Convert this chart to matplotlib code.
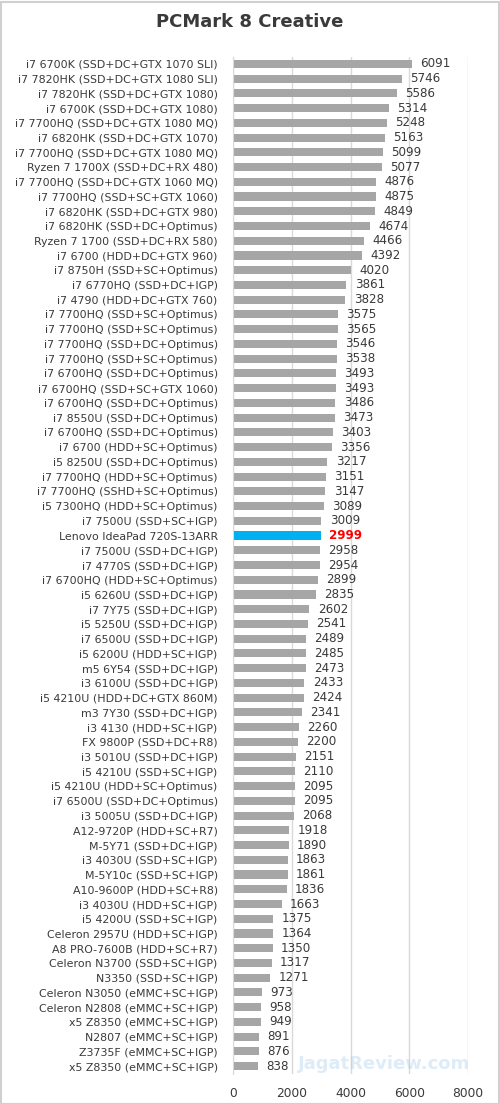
import matplotlib
matplotlib.use("Agg")
import matplotlib.pyplot as plt
from matplotlib.patches import Rectangle

labels = [
    "i7 6700K (SSD+DC+GTX 1070 SLI)", "i7 7820HK (SSD+DC+GTX 1080 SLI)",
    "i7 7820HK (SSD+DC+GTX 1080)", "i7 6700K (SSD+DC+GTX 1080)",
    "i7 7700HQ (SSD+DC+GTX 1080 MQ)", "i7 6820HK (SSD+DC+GTX 1070)",
    "i7 7700HQ (SSD+DC+GTX 1080 MQ)", "Ryzen 7 1700X (SSD+DC+RX 480)",
    "i7 7700HQ (SSD+DC+GTX 1060 MQ)", "i7 7700HQ (SSD+SC+GTX 1060)",
    "i7 6820HK (SSD+DC+GTX 980)", "i7 6820HK (SSD+DC+Optimus)",
    "Ryzen 7 1700 (SSD+DC+RX 580)", "i7 6700 (HDD+DC+GTX 960)",
    "i7 8750H (SSD+SC+Optimus)", "i7 6770HQ (SSD+DC+IGP)",
    "i7 4790 (HDD+DC+GTX 760)", "i7 7700HQ (SSD+SC+Optimus)",
    "i7 7700HQ (SSD+SC+Optimus)", "i7 7700HQ (SSD+DC+Optimus)",
    "i7 7700HQ (SSD+SC+Optimus)", "i7 6700HQ (SSD+DC+Optimus)",
    "i7 6700HQ (SSD+SC+GTX 1060)", "i7 6700HQ (SSD+DC+Optimus)",
    "i7 8550U (SSD+DC+Optimus)", "i7 6700HQ (SSD+DC+Optimus)",
    "i7 6700 (HDD+SC+Optimus)", "i5 8250U (SSD+DC+Optimus)",
    "i7 7700HQ (HDD+SC+Optimus)", "i7 7700HQ (SSHD+SC+Optimus)",
    "i5 7300HQ (HDD+SC+Optimus)", "i7 7500U (SSD+SC+IGP)",
    "Lenovo IdeaPad 720S-13ARR", "i7 7500U (SSD+DC+IGP)",
    "i7 4770S (SSD+DC+IGP)", "i7 6700HQ (HDD+SC+Optimus)",
    "i5 6260U (SSD+DC+IGP)", "i7 7Y75 (SSD+DC+IGP)",
    "i5 5250U (SSD+DC+IGP)", "i7 6500U (SSD+DC+IGP)",
    "i5 6200U (HDD+SC+IGP)", "m5 6Y54 (SSD+DC+IGP)",
    "i3 6100U (SSD+DC+IGP)", "i5 4210U (HDD+DC+GTX 860M)",
    "m3 7Y30 (SSD+DC+IGP)", "i3 4130 (HDD+SC+IGP)",
    "FX 9800P (SSD+DC+R8)", "i3 5010U (SSD+DC+IGP)",
    "i5 4210U (SSD+SC+IGP)", "i5 4210U (HDD+SC+Optimus)",
    "i7 6500U (SSD+DC+Optimus)", "i3 5005U (SSD+DC+IGP)",
    "A12-9720P (HDD+SC+R7)", "M-5Y71 (SSD+DC+IGP)",
    "i3 4030U (SSD+SC+IGP)", "M-5Y10c (SSD+SC+IGP)",
    "A10-9600P (HDD+SC+R8)", "i3 4030U (HDD+SC+IGP)",
    "i5 4200U (SSD+SC+IGP)", "Celeron 2957U (HDD+SC+IGP)",
    "A8 PRO-7600B (HDD+SC+R7)", "Celeron N3700 (SSD+SC+IGP)",
    "N3350 (SSD+SC+IGP)", "Celeron N3050 (eMMC+SC+IGP)",
    "Celeron N2808 (eMMC+SC+IGP)", "x5 Z8350 (eMMC+SC+IGP)",
    "N2807 (eMMC+SC+IGP)", "Z3735F (eMMC+SC+IGP)",
    "x5 Z8350 (eMMC+SC+IGP)",
]
scores = [
    6091, 5746, 5586, 5314, 5248, 5163, 5099, 5077, 4876, 4875, 4849, 4674,
    4466, 4392, 4020, 3861, 3828, 3575, 3565, 3546, 3538, 3493, 3493, 3486,
    3473, 3403, 3356, 3217, 3151, 3147, 3089, 3009, 2999, 2958, 2954, 2899,
    2835, 2602, 2541, 2489, 2485, 2473, 2433, 2424, 2341, 2260, 2200, 2151,
    2110, 2095, 2095, 2068, 1918, 1890, 1863, 1861, 1836, 1663, 1375, 1364,
    1350, 1317, 1271, 973, 958, 949, 891, 876, 838,
]
highlight = "Lenovo IdeaPad 720S-13ARR"
xticks = [0, 2000, 4000, 6000, 8000]

W, H = 500, 1104
fig = plt.figure(figsize=(W / 100, H / 100), dpi=100)
fig.patch.set_facecolor("white")
# thin frame around the image
fig.add_artist(Rectangle((0.5 / W, 0.5 / H), (W - 2) / W, (H - 2) / H,
                         transform=fig.transFigure, fill=False,
                         edgecolor="#d0d0d0", linewidth=1.5))

left, right = 233 / W, 468 / W
top, bottom = 56.5 / H, 1073.5 / H
ax = fig.add_axes([left, 1 - bottom, right - left, bottom - top])

n = len(labels)
ypos = list(range(n))
colors = ["#00b0f0" if l == highlight else "#a6a6a6" for l in labels]
ax.barh(ypos, scores, height=0.55, color=colors, zorder=2)
ax.set_ylim(n - 0.5, -0.5)
ax.set_xlim(0, 8000)
ax.set_yticks(ypos)
ax.set_yticklabels(labels, fontsize=7.9, color="#3a3a3a")
ax.set_xticks(xticks)
ax.set_xticklabels([str(t) for t in xticks], fontsize=8.8, color="#3a3a3a")
ax.tick_params(axis="both", length=0)
ax.tick_params(axis="y", pad=11)
ax.tick_params(axis="x", pad=10)
ax.grid(axis="x", color="#d9d9d9", linewidth=1, zorder=0)
for s in ["top", "right", "bottom"]:
    ax.spines[s].set_visible(False)
ax.spines["left"].set_color("#d9d9d9")

# watermark (kept clear of the value labels)
fig.text(298 / W, 1 - 1064 / H, "JagatReview.com", ha="left", va="center",
         fontsize=13, fontweight="bold", color="#9ecae8", alpha=0.35,
         zorder=1)

for y, v, l in zip(ypos, scores, labels):
    if l == highlight:
        ax.text(v + 280, y, str(v), va="center", ha="left", fontsize=8.6,
                color="#ff0000", fontweight="bold", zorder=3)
    else:
        ax.text(v + 280, y, str(v), va="center", ha="left", fontsize=8.6,
                color="#3a3a3a", zorder=3)

fig.text(0.5, 1 - 22 / H, "PCMark 8 Creative", ha="center", va="center",
         fontsize=13, fontweight="bold", color="#3a3a3a")

fig.savefig("out.png", dpi=100, facecolor="white")
